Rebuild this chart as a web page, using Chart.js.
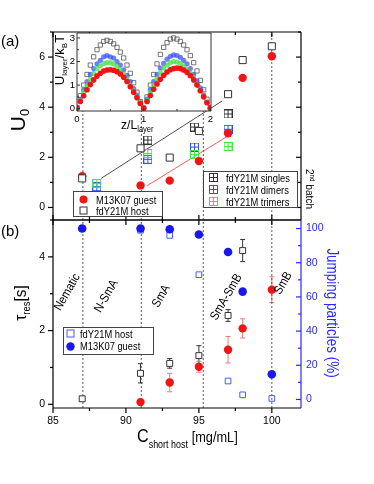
<!DOCTYPE html>
<html>
<head>
<meta charset="utf-8">
<script src="https://cdn.jsdelivr.net/npm/chart.js@4.4.1/dist/chart.umd.min.js"></script>
<style>
body { margin: 0; background: #fff; font-family: "Liberation Sans", Arial, sans-serif; }
#wrap { position: relative; width: 374px; height: 484px; overflow: hidden; }
canvas { position: absolute; left: 0; top: 0; }
.t { position: absolute; white-space: nowrap; line-height: 1; color: #000; }
.box { position: absolute; background: #fff; border: 1px solid #444; box-sizing: border-box; }
.lt { position: absolute; white-space: nowrap; line-height: 1; font-size: 11px;
      transform-origin: 0 50%; transform: translateY(-50%) scaleX(0.85); }
.mk { position: absolute; }
.ph { font-size: 12.5px; }
sub { font-size: 0.62em; vertical-align: -0.35em; }
sup { font-size: 0.62em; vertical-align: 0.55em; }
</style>
</head>
<body>
<div id="wrap">
  <canvas id="bottom" width="374" height="484"></canvas>
  <canvas id="top" width="374" height="484"></canvas>
  <canvas id="inset" width="374" height="484"></canvas>

  <div class="t" style="left:1px;top:33px;font-size:15px;">(a)</div>
  <div class="t" style="left:1px;top:223px;font-size:15px;">(b)</div>

  <div class="t" style="left:19px;top:120px;font-size:21px;transform:translate(-50%,-50%) rotate(-90deg);">U<sub>0</sub></div>
  <div class="t" style="left:22px;top:303px;font-size:17px;transform:translate(-50%,-50%) rotate(-90deg) scaleX(0.9);">&tau;<sub>res</sub>[s]</div>
  <div class="t" style="left:137px;top:426px;transform-origin:0 50%;transform:scaleX(0.85);"><span style="font-size:19px;">C</span><span style="font-size:10.5px;vertical-align:-6px;">short host</span> <span style="font-size:15px;">[mg/mL]</span></div>
  <div class="t" style="left:332px;top:313px;font-size:16px;color:#2828ff;transform:translate(-50%,-50%) rotate(90deg) scaleX(0.84);">Jumping particles (%)</div>
  <div class="t" style="left:309px;top:189px;font-size:11.5px;transform:translate(-50%,-50%) rotate(90deg) scaleX(0.88);">2<sup>nd</sup> batch</div>

  <div class="t" style="left:61px;top:60px;font-size:13px;transform:translate(-50%,-50%) rotate(-90deg);">U<sub>layer</sub>/k<sub>B</sub>T</div>
  <div class="t" style="left:121px;top:118px;font-size:13.5px;transform-origin:0 50%;transform:scaleX(0.9);">z/L<sub>layer</sub></div>

  <div class="t ph" style="left:67px;top:292px;transform:translate(-50%,-50%) rotate(-60deg) scaleX(0.88);">Nematic</div>
  <div class="t ph" style="left:106px;top:296px;transform:translate(-50%,-50%) rotate(-60deg) scaleX(0.88);">N-SmA</div>
  <div class="t ph" style="left:161px;top:296px;transform:translate(-50%,-50%) rotate(-60deg) scaleX(0.88);">SmA</div>
  <div class="t ph" style="left:226px;top:297px;transform:translate(-50%,-50%) rotate(-60deg) scaleX(0.88);">SmA-SmB</div>
  <div class="t ph" style="left:283px;top:283px;transform:translate(-50%,-50%) rotate(-60deg) scaleX(0.88);">SmB</div>

  <!-- legend: guest / host (top panel) -->
  <div class="box" style="left:73px;top:191px;width:90px;height:26px;"></div>
  <svg class="mk" style="left:78px;top:194px" width="11" height="11"><circle cx="5.5" cy="5.5" r="4" fill="#f01414"/></svg>
  <div class="lt" style="left:96px;top:199.5px;">M13K07 guest</div>
  <svg class="mk" style="left:78px;top:205px" width="11" height="11"><rect x="2" y="2" width="7" height="7" fill="#fff" stroke="#333"/></svg>
  <div class="lt" style="left:96px;top:210.5px;">fdY21M host</div>

  <!-- legend: 2nd batch -->
  <div class="box" style="left:203px;top:171px;width:95px;height:37px;"></div>
  <svg class="mk" style="left:208px;top:172px" width="11" height="11"><rect x="1.5" y="1.5" width="8" height="8" fill="none" stroke="#333"/><path d="M5.5 1.5V9.5M1.5 5.5H9.5" stroke="#333"/></svg>
  <div class="lt" style="left:226px;top:177.8px;">fdY21M singles</div>
  <svg class="mk" style="left:208px;top:184px" width="11" height="11"><rect x="1.5" y="1.5" width="8" height="8" fill="none" stroke="#2f4fff"/><path d="M5.5 1.5V9.5M1.5 5.5H9.5" stroke="#2f4fff"/></svg>
  <div class="lt" style="left:226px;top:189.6px;">fdY21M dimers</div>
  <svg class="mk" style="left:208px;top:196px" width="11" height="11"><rect x="1.5" y="1.5" width="8" height="8" fill="none" stroke="#3ee63e"/><path d="M5.5 1.5V9.5M1.5 5.5H9.5" stroke="#3ee63e"/></svg>
  <div class="lt" style="left:226px;top:201.5px;">fdY21M trimers</div>

  <!-- legend: bottom panel -->
  <div class="box" style="left:63px;top:327px;width:91px;height:28px;"></div>
  <svg class="mk" style="left:64.5px;top:328px" width="11" height="11"><rect x="2" y="2" width="7" height="7" fill="#fff" stroke="#4a5af0"/></svg>
  <div class="lt" style="left:80px;top:333.5px;">fdY21M host</div>
  <svg class="mk" style="left:64.5px;top:340.5px" width="11" height="11"><circle cx="5.5" cy="5.5" r="4.2" fill="#1818ee"/></svg>
  <div class="lt" style="left:80px;top:346px;">M13K07 guest</div>
</div>

<script>
// (a) barrier height U0 vs host concentration
const concs = [87, 91, 93, 95, 97, 98, 100];
const guestU0 = [1.25, 0.88, 1.07, 1.85, 2.96, 5.17, 6.03];
const hostU0 = [1.16, 2.36, 1.99, 3.05, 4.52, 5.88, 6.43];

// 2nd batch
const batchConcs = [88, 91.5, 94.7, 97];
const singlesU0 = [null, 2.69, 3.21, 3.73];
const dimersU0 = [0.83, 1.92, 2.41, 3.12];
const trimersU0 = [0.96, 2.15, 2.12, 2.43];

// guide lines
const hostFitX = [88.3, 96.6];
const hostFitY = [1.16, 4.25];
const guestFitX = [91.45, 97.15];
const guestFitY = [0.87, 2.91];

// phase boundaries (dashed)
const phaseBounds = [87.05, 91.05, 95.3, 100];
const boundTopU0 = [3.85, 3.85, 3.85, 7];

// (b) residence time + jumping fraction
const hostTauConcs = [87, 91, 93, 95, 97, 98];
const hostTau = [0.15, 0.84, 1.11, 1.32, 2.41, 4.17];
const hostTauErr = [0.05, 0.26, 0.13, 0.27, 0.16, 0.3];
const guestTauConcs = [91, 93, 95, 97, 98, 100];
const guestTau = [0.06, 0.59, 1.02, 1.48, 2.06, 3.11];
const guestTauErr = [0, 0.25, 0.15, 0.36, 0.26, 0.35];
const hostJump = [100, 99, 96, 73, 10.8, 2.7, 0.6];
const guestJump = [100, 100, 99.6, 96.5, 86.3, 63.1, 14.7];

// inset: potential profile over two layers
const zLayer = [0, 0.05, 0.1, 0.15, 0.2, 0.25, 0.3, 0.35, 0.4, 0.45, 0.5, 0.55, 0.6, 0.65, 0.7, 0.75, 0.8, 0.85, 0.9, 0.95, 1,
  1.05, 1.1, 1.15, 1.2, 1.25, 1.3, 1.35, 1.4, 1.45, 1.5, 1.55, 1.6, 1.65, 1.7, 1.75, 1.8, 1.85, 1.9, 1.95, 2];
const singlesProfile = [0.05, 0.55, 1.0, 1.45, 1.85, 2.2, 2.5, 2.7, 2.85, 2.9, 2.85, 2.75, 2.6, 2.4, 2.15, 1.85, 1.5, 1.1, 0.7, 0.3, 0.02,
  0.5, 1.0, 1.45, 1.9, 2.3, 2.6, 2.8, 2.95, 3.0, 2.95, 2.85, 2.7, 2.5, 2.25, 1.95, 1.6, 1.2, 0.8, 0.4, 0.05];
const dimersProfile = [0.05, 0.4, 0.8, 1.15, 1.45, 1.7, 1.9, 2.05, 2.2, 2.25, 2.2, 2.15, 2.0, 1.85, 1.65, 1.4, 1.15, 0.85, 0.55, 0.25, 0.02,
  0.4, 0.8, 1.15, 1.45, 1.72, 1.92, 2.1, 2.22, 2.28, 2.25, 2.18, 2.05, 1.9, 1.7, 1.45, 1.18, 0.88, 0.58, 0.28, 0.03];
const trimersProfile = [0.0, 0.35, 0.7, 1.0, 1.25, 1.5, 1.7, 1.82, 1.92, 1.95, 1.95, 1.9, 1.8, 1.65, 1.45, 1.25, 1.0, 0.75, 0.5, 0.25, 0.0,
  0.35, 0.7, 1.0, 1.28, 1.52, 1.72, 1.85, 1.95, 2.0, 1.98, 1.92, 1.82, 1.68, 1.5, 1.28, 1.03, 0.78, 0.52, 0.26, 0.0];
const guestProfile = [0.02, 0.3, 0.55, 0.8, 1.02, 1.22, 1.38, 1.5, 1.6, 1.64, 1.65, 1.63, 1.57, 1.47, 1.33, 1.15, 0.93, 0.7, 0.46, 0.22, 0.02,
  0.3, 0.56, 0.82, 1.05, 1.25, 1.42, 1.55, 1.65, 1.7, 1.72, 1.7, 1.64, 1.54, 1.4, 1.22, 1.0, 0.76, 0.5, 0.25, 0.02];

// tick positions (major ones get a label)
const xTickVals = [85, 87.5, 90, 92.5, 95, 97.5, 100];
const xTickMajor = [85, 90, 95, 100];
const u0TickVals = [0, 1, 2, 3, 4, 5, 6, 7];
const u0TickMajor = [0, 2, 4, 6];
const tauTickVals = [0, 1, 2, 3, 4, 5];
const tauTickMajor = [0, 2, 4];
const jumpTickVals = [0, 10, 20, 30, 40, 50, 60, 70, 80, 90, 100];
const jumpTickMajor = [0, 20, 40, 60, 80, 100];
const zTickVals = [0, 0.5, 1, 1.5, 2];
const zTickMajor = [0, 1, 2];
const uLayerTickVals = [0, 0.5, 1, 1.5, 2, 2.5, 3];
const uLayerTickMajor = [0, 1, 2, 3];

const BLUE = '#2828ff';
const FONT = '"Liberation Sans", Arial, sans-serif';

function pts(xs, ys) {
  return xs.map((x, i) => ({ x: x, y: ys[i] }));
}

function crossBox(color) {
  const c = document.createElement('canvas');
  c.width = 9; c.height = 9;
  const g = c.getContext('2d');
  g.strokeStyle = color;
  g.lineWidth = 1;
  g.strokeRect(0.5, 0.5, 8, 8);
  g.beginPath();
  g.moveTo(4.5, 0.5); g.lineTo(4.5, 8.5);
  g.moveTo(0.5, 4.5); g.lineTo(8.5, 4.5);
  g.stroke();
  return c;
}

// frame + tick marks (Origin style, some inward)
const framePlugin = {
  id: 'frame',
  beforeDraw(chart, args, o) {
    if (!o.fill) return;
    const a = chart.chartArea;
    chart.ctx.save();
    chart.ctx.fillStyle = o.fill;
    chart.ctx.fillRect(a.left, a.top, a.right - a.left, a.bottom - a.top);
    chart.ctx.restore();
  },
  afterDraw(chart, args, o) {
    const ctx = chart.ctx, a = chart.chartArea;
    ctx.save();
    ctx.lineWidth = o.width || 1.2;
    (o.ticks || []).forEach(t => {
      const s = chart.scales[t.axis];
      ctx.strokeStyle = t.color || '#000';
      t.values.forEach(v => {
        const p = s.getPixelForValue(v);
        const len = t.major.includes(v) ? t.len[0] : t.len[1];
        const d = t.out ? -1 : 1;
        ctx.beginPath();
        if (t.edge === 'left') { ctx.moveTo(a.left, p); ctx.lineTo(a.left + d * len, p); }
        if (t.edge === 'right') { ctx.moveTo(a.right, p); ctx.lineTo(a.right - d * len, p); }
        if (t.edge === 'top') { ctx.moveTo(p, a.top); ctx.lineTo(p, a.top + d * len); }
        if (t.edge === 'bottom') { ctx.moveTo(p, a.bottom); ctx.lineTo(p, a.bottom - d * len); }
        ctx.stroke();
      });
    });
    const sd = o.sides || {};
    const seg = (c, x1, y1, x2, y2) => {
      if (!c) return;
      ctx.strokeStyle = c;
      ctx.beginPath(); ctx.moveTo(x1, y1); ctx.lineTo(x2, y2); ctx.stroke();
    };
    seg(sd.top, a.left, a.top, a.right, a.top);
    seg(sd.bottom, a.left, a.bottom, a.right, a.bottom);
    seg(sd.left, a.left, a.top, a.left, a.bottom);
    seg(sd.right, a.right, a.top, a.right, a.bottom);
    ctx.restore();
  }
};

// vertical error bars
const errPlugin = {
  id: 'errbars',
  beforeDatasetsDraw(chart, args, o) {
    const ctx = chart.ctx;
    (o.sets || []).forEach(e => {
      const xs = chart.scales.x, ys = chart.scales[e.axis || 'y'];
      ctx.save();
      ctx.strokeStyle = e.color;
      ctx.lineWidth = 1;
      e.x.forEach((xv, i) => {
        if (!e.err[i]) return;
        const px = xs.getPixelForValue(xv);
        const top = ys.getPixelForValue(e.y[i] + e.err[i]);
        const bot = ys.getPixelForValue(e.y[i] - e.err[i]);
        ctx.beginPath();
        ctx.moveTo(px, top); ctx.lineTo(px, bot);
        ctx.moveTo(px - 2.5, top); ctx.lineTo(px + 2.5, top);
        ctx.moveTo(px - 2.5, bot); ctx.lineTo(px + 2.5, bot);
        ctx.stroke();
      });
      ctx.restore();
    });
  }
};

const useTicks = vals => s => { s.ticks = vals.map(v => ({ value: v })); };
const labelIf = major => v => (major.includes(v) ? String(v) : '');
const tickFont = { family: FONT, size: 10.5 };
const noGrid = { display: false, drawTicks: false };

function lineSet(xs, ys, color, width, dash, order, yAxisID) {
  return {
    data: pts(xs, ys), showLine: true, borderColor: color, borderWidth: width,
    borderDash: dash || [], pointRadius: 0, order: order, yAxisID: yAxisID || 'y'
  };
}

// ---------- panel (b) ----------
const bottomSets = [
  { data: pts(concs, guestJump), yAxisID: 'y2', pointStyle: 'circle', pointRadius: 4.3,
    backgroundColor: '#1818ee', borderColor: '#1818ee', borderWidth: 0, order: 1 },
  { data: pts(concs, hostJump), yAxisID: 'y2', pointStyle: 'rect', pointRadius: 4,
    backgroundColor: 'rgba(255,255,255,0)', borderColor: '#4a5af0', borderWidth: 1, order: 2 },
  { data: pts(hostTauConcs, hostTau), pointStyle: 'rect', pointRadius: 4.2,
    backgroundColor: '#fff', borderColor: '#333', borderWidth: 1, order: 2 },
  { data: pts(guestTauConcs, guestTau), pointStyle: 'circle', pointRadius: 4.2,
    backgroundColor: '#f01414', borderColor: '#f01414', borderWidth: 0, order: 2 }
];
phaseBounds.forEach(b => bottomSets.push(lineSet([b, b], [-0.1, 5], '#333', 0.8, [2, 2], 10)));

new Chart(document.getElementById('bottom'), {
  type: 'scatter',
  data: { datasets: bottomSets },
  options: {
    responsive: false, animation: false, events: [],
    layout: { padding: { top: 220, left: 0, right: 0, bottom: 0 } },
    plugins: {
      legend: { display: false }, tooltip: { enabled: false },
      errbars: { sets: [
        { x: hostTauConcs, y: hostTau, err: hostTauErr, color: '#333' },
        { x: guestTauConcs, y: guestTau, err: guestTauErr, color: '#f07878' }
      ] },
      frame: {
        sides: { left: '#000', bottom: '#000', right: BLUE, top: '#000' },
        ticks: [
          { axis: 'y', edge: 'left', out: true, values: tauTickVals, major: tauTickMajor, len: [5, 3] },
          { axis: 'x', edge: 'bottom', out: true, values: xTickVals, major: xTickMajor, len: [5, 3] },
          { axis: 'x', edge: 'top', out: false, values: xTickVals, major: xTickMajor, len: [5, 3] },
          { axis: 'y2', edge: 'right', out: false, values: jumpTickVals, major: jumpTickMajor, len: [5, 3], color: BLUE }
        ]
      }
    },
    scales: {
      x: {
        type: 'linear', min: 85, max: 102, position: 'bottom',
        afterBuildTicks: useTicks(xTickVals),
        afterFit: s => { s.height = 76; },
        ticks: { autoSkip: false, font: tickFont, color: '#000', padding: 7, maxRotation: 0,
          callback: labelIf(xTickMajor) },
        grid: noGrid, border: { display: false }
      },
      y: {
        min: -0.1, max: 5, position: 'left',
        afterBuildTicks: useTicks(tauTickVals),
        afterFit: s => { s.width = 53; },
        ticks: { autoSkip: false, font: tickFont, color: '#000', padding: 8,
          callback: labelIf(tauTickMajor) },
        grid: noGrid, border: { display: false }
      },
      y2: {
        min: -5, max: 105, position: 'right',
        afterBuildTicks: useTicks(jumpTickVals),
        afterFit: s => { s.width = 73; },
        ticks: { autoSkip: false, font: tickFont, color: BLUE, padding: 5,
          callback: labelIf(jumpTickMajor) },
        grid: noGrid, border: { display: false }
      }
    }
  },
  plugins: [framePlugin, errPlugin]
});

// ---------- panel (a) ----------
const topSets = [
  { data: pts(concs, hostU0), pointStyle: 'rect', pointRadius: 5,
    backgroundColor: '#fff', borderColor: '#333', borderWidth: 1, order: 1 },
  { data: pts(concs, guestU0), pointStyle: 'circle', pointRadius: 4.2,
    backgroundColor: '#f01414', borderColor: '#f01414', borderWidth: 0, order: 2 },
  { data: pts(batchConcs, singlesU0), pointStyle: crossBox('#333'), order: 3 },
  { data: pts(batchConcs, trimersU0), pointStyle: crossBox('#3ee63e'), order: 4 },
  { data: pts(batchConcs, dimersU0), pointStyle: crossBox('#2f4fff'), order: 5 },
  lineSet(hostFitX, hostFitY, '#222', 0.8, null, 8),
  lineSet(guestFitX, guestFitY, '#ff3030', 0.8, null, 8)
];
phaseBounds.forEach((b, i) => topSets.push(lineSet([b, b], [-0.5, boundTopU0[i]], '#333', 0.8, [2, 2], 10)));

new Chart(document.getElementById('top'), {
  type: 'scatter',
  data: { datasets: topSets },
  options: {
    responsive: false, animation: false, events: [],
    layout: { padding: { top: 32, left: 0, right: 73, bottom: 264 } },
    plugins: {
      legend: { display: false }, tooltip: { enabled: false },
      frame: {
        sides: { left: '#000', top: '#000', right: '#000', bottom: '#000' },
        ticks: [
          { axis: 'y', edge: 'left', out: true, values: u0TickVals, major: u0TickMajor, len: [5, 3] },
          { axis: 'y', edge: 'right', out: false, values: u0TickVals, major: u0TickMajor, len: [5, 3] },
          { axis: 'x', edge: 'top', out: false, values: xTickVals, major: xTickMajor, len: [5, 3] },
          { axis: 'x', edge: 'bottom', out: false, values: xTickVals, major: xTickMajor, len: [5, 3] }
        ]
      }
    },
    scales: {
      x: { type: 'linear', min: 85, max: 102, display: false },
      y: {
        min: -0.5, max: 7, position: 'left',
        afterBuildTicks: useTicks(u0TickVals),
        afterFit: s => { s.width = 53; },
        ticks: { autoSkip: false, font: tickFont, color: '#000', padding: 8,
          callback: labelIf(u0TickMajor) },
        grid: noGrid, border: { display: false }
      }
    }
  },
  plugins: [framePlugin]
});

// ---------- inset ----------
const insetFont = { family: FONT, size: 9.5 };
new Chart(document.getElementById('inset'), {
  type: 'scatter',
  data: {
    datasets: [
      { data: pts(zLayer, guestProfile), pointStyle: 'circle', pointRadius: 2.8,
        backgroundColor: '#f01414', borderWidth: 0, order: 1 },
      { data: pts(zLayer, trimersProfile), pointStyle: 'circle', pointRadius: 2.6,
        backgroundColor: 'rgba(70,225,70,0.75)', borderWidth: 0, order: 2 },
      { data: pts(zLayer, dimersProfile), pointStyle: 'circle', pointRadius: 2.6,
        backgroundColor: 'rgba(50,70,255,0.7)', borderWidth: 0, order: 3 },
      { data: pts(zLayer, singlesProfile), pointStyle: 'rect', pointRadius: 3,
        backgroundColor: 'rgba(255,255,255,0)', borderColor: '#555', borderWidth: 0.8, order: 4 }
    ]
  },
  options: {
    responsive: false, animation: false, events: [],
    layout: { padding: { top: 33, left: 60, right: 163, bottom: 361 } },
    plugins: {
      legend: { display: false }, tooltip: { enabled: false },
      frame: {
        fill: '#fff', width: 1,
        sides: { left: '#333', top: '#333', right: '#333', bottom: '#333' },
        ticks: [
          { axis: 'y', edge: 'left', out: false, values: uLayerTickVals, major: uLayerTickMajor, len: [3, 2], color: '#333' },
          { axis: 'x', edge: 'bottom', out: false, values: zTickVals, major: zTickMajor, len: [3, 2], color: '#333' }
        ]
      }
    },
    scales: {
      x: {
        type: 'linear', min: 0, max: 2.01, position: 'bottom',
        afterBuildTicks: useTicks(zTickVals),
        afterFit: s => { s.height = 12; },
        ticks: { autoSkip: false, font: insetFont, color: '#000', padding: 3, maxRotation: 0,
          callback: labelIf(zTickMajor) },
        grid: noGrid, border: { display: false }
      },
      y: {
        min: -0.1, max: 3.21, position: 'left',
        afterBuildTicks: useTicks(uLayerTickVals),
        afterFit: s => { s.width = 17; },
        ticks: { autoSkip: false, font: insetFont, color: '#000', padding: 2,
          callback: labelIf(uLayerTickMajor) },
        grid: noGrid, border: { display: false }
      }
    }
  },
  plugins: [framePlugin]
});
</script>
</body>
</html>
